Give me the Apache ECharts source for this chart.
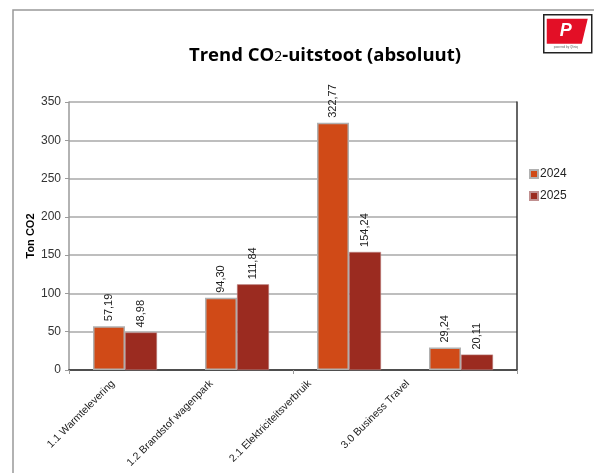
<!DOCTYPE html>
<html>
<head>
<meta charset="utf-8">
<script src="https://cdn.jsdelivr.net/npm/echarts@6/dist/echarts.min.js"></script>
<style>
  html, body { margin: 0; padding: 0; background: #fff; }
  #main { width: 594px; height: 473px; }
</style>
</head>
<body>
<div id="main"></div>
<script>
// data
var categories = ['1.1 Warmtelevering', '1.2 Brandstof wagenpark', '2.1 Elektriciteitsverbruik', '3.0 Business Travel'];
var years = ['2024', '2025'];
var values2024 = [57.19, 94.30, 322.77, 29.24];
var values2025 = [48.98, 111.84, 154.24, 20.11];
var yTicks = [0, 50, 100, 150, 200, 250, 300, 350];

var colors = ['#d04a17', '#9b2b20'];

function fmt(v) {
  return v.toFixed(2).replace('.', ',');
}

var chart = echarts.init(document.getElementById('main'));

var labelStyle = {
  show: true,
  position: 'top',
  rotate: 90,
  align: 'left',
  verticalAlign: 'middle',
  distance: 5,
  fontFamily: 'Liberation Sans, Arial, sans-serif',
  fontSize: 11,
  color: '#222',
  formatter: function (p) { return fmt(p.value); }
};

var option = {
  animation: false,
  textStyle: { fontFamily: 'Liberation Sans, Arial, sans-serif' },
  title: {
    text: 'Trend CO{sub|2}-uitstoot (absoluut)',
    left: 320,
    top: 41,
    textAlign: 'center',
    textStyle: {
      fontFamily: 'Open Sans, sans-serif',
      fontSize: 18.5,
      fontWeight: 'bold',
      color: '#000',
      rich: {
        sub: { fontFamily: 'Open Sans, sans-serif', fontSize: 14, fontWeight: 'normal', color: '#000', padding: [4, 0, 0, 0] }
      }
    }
  },
  legend: {
    orient: 'vertical',
    left: 524,
    top: 163,
    itemWidth: 8,
    itemHeight: 8,
    itemGap: 10,
    icon: 'rect',
    textStyle: { fontSize: 12, color: '#222', padding: [0, 0, 0, -3] },
    data: years
  },
  grid: [
    { left: 69, right: 77, top: 102, bottom: 103 },
    // only for the slanted category labels, which sit a bit left of the bars
    { left: 64, width: 393, top: 102, bottom: 103 }
  ],
  xAxis: [{
    type: 'category',
    gridIndex: 0,
    data: categories,
    axisLine: { lineStyle: { color: '#9a9a9a', width: 1.5 } },
    axisTick: { show: true, length: 4, lineStyle: { color: '#9a9a9a' } },
    axisLabel: { show: false }
  }, {
    type: 'category',
    gridIndex: 0,
    position: 'top',
    data: categories,
    axisLine: { show: true, lineStyle: { color: '#333', width: 1.5 } },
    axisTick: { show: false },
    axisLabel: { show: false }
  }, {
    type: 'category',
    gridIndex: 1,
    data: categories,
    axisLine: { show: false },
    axisTick: { show: false },
    axisLabel: {
      rotate: 45,
      interval: 0,
      fontSize: 10.5,
      color: '#222',
      margin: 12
    }
  }],
  yAxis: [{
    type: 'value',
    gridIndex: 0,
    min: 0,
    max: yTicks[yTicks.length - 1],
    interval: 50,
    name: 'Ton CO2',
    nameLocation: 'middle',
    nameGap: 33,
    nameMoveOverlap: false,
    nameTextStyle: { fontSize: 11, fontWeight: 'bold', color: '#000' },
    axisLine: { show: true, lineStyle: { color: '#9a9a9a', width: 1.5 } },
    axisTick: { show: true, length: 4, lineStyle: { color: '#9a9a9a' } },
    axisLabel: { fontSize: 12, color: '#333', margin: 8 },
    splitLine: { lineStyle: { color: '#a8a8a8', width: 1.5 } }
  }, {
    type: 'value',
    gridIndex: 0,
    position: 'right',
    min: 0,
    max: yTicks[yTicks.length - 1],
    interval: 50,
    axisLine: { show: true, lineStyle: { color: '#333', width: 1.5 } },
    axisTick: { show: false },
    axisLabel: { show: false },
    splitLine: { show: false }
  }, {
    type: 'value',
    gridIndex: 1,
    show: false
  }],
  series: [{
    name: years[0],
    type: 'bar',
    data: values2024,
    barWidth: 32,
    barGap: '0%',
    itemStyle: { color: colors[0], borderColor: '#b0b0b0', borderWidth: 1.5 },
    label: labelStyle
  }, {
    name: years[1],
    type: 'bar',
    data: values2025,
    barWidth: 32,
    itemStyle: { color: colors[1], borderColor: '#c09090', borderWidth: 0.5 },
    label: labelStyle
  }],
  graphic: [
    // slide frame
    {
      type: 'polyline',
      shape: { points: [[13, 473], [13, 10], [594, 10]] },
      style: { stroke: '#999', lineWidth: 1.5, fill: null }
    },
    // logo
    {
      type: 'group',
      left: 543,
      top: 14,
      children: [
        { type: 'rect', shape: { x: 0, y: 0, width: 48, height: 38 }, style: { fill: '#fff', stroke: '#222', lineWidth: 1.5 } },
        { type: 'polygon', shape: { points: [[3, 4], [44, 4], [38, 29], [3, 29]] }, style: { fill: '#e30f26' } },
        { type: 'text', style: { x: 16, y: 7, text: 'P', fill: '#fff', font: 'italic bold 18px Liberation Sans' } },
        { type: 'text', style: { x: 10, y: 31, text: 'powered by Qliniq', fill: '#666', font: '3px Liberation Sans' } }
      ]
    }
  ]
};

chart.setOption(option);
</script>
</body>
</html>
